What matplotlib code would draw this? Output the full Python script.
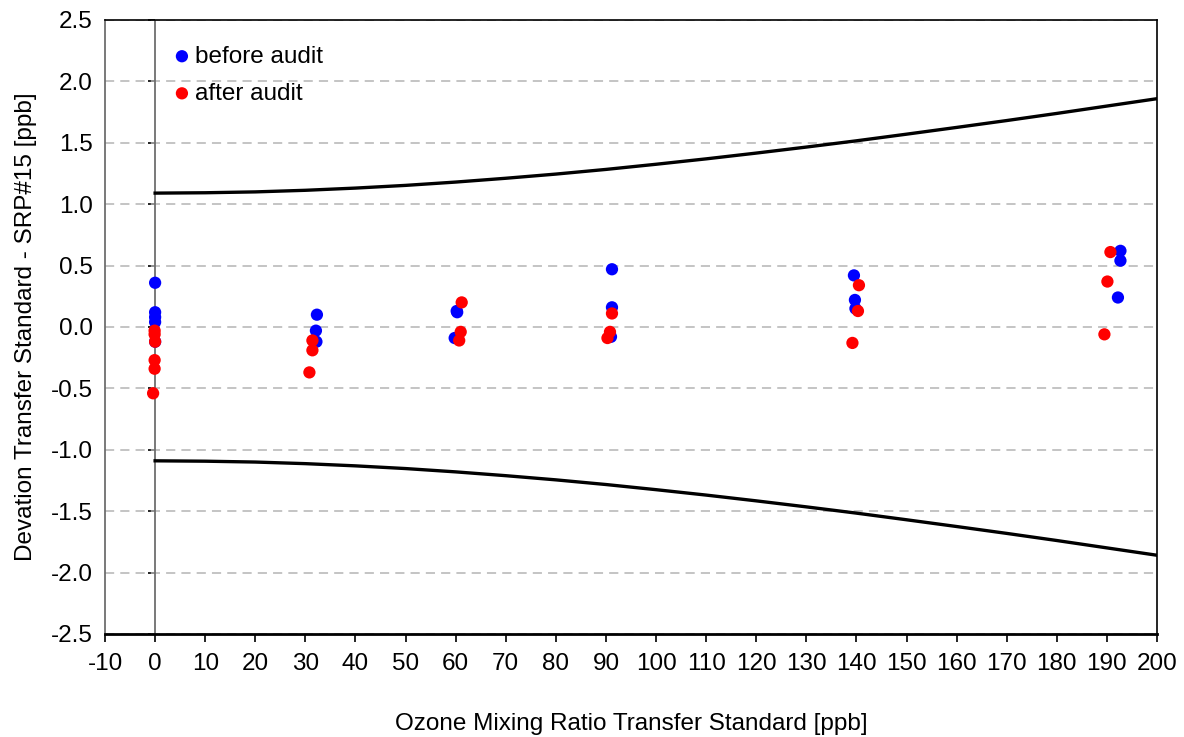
import matplotlib
matplotlib.use('Agg')
import matplotlib.pyplot as plt
import numpy as np

plt.rcParams['font.family'] = ['Liberation Sans', 'DejaVu Sans']
plt.rcParams['axes.unicode_minus'] = False

# before audit (blue)
before_x = [0, 0, 0, 0, 0, 32.3, 32.1, 32.2, 60.3, 60.2, 59.8, 91.2, 91.2, 91.0,
            139.5, 139.7, 139.8, 192.7, 192.7, 192.2]
before_y = [0.36, 0.12, 0.08, 0.04, -0.12, 0.10, -0.03, -0.12, 0.12, 0.13, -0.09,
            0.47, 0.16, -0.08, 0.42, 0.22, 0.15, 0.62, 0.54, 0.24]

# after audit (red)
after_x = [-0.1, -0.1, 0.0, -0.1, -0.1, -0.4, 31.4, 31.4, 30.8, 61.2, 61.0, 60.7,
           91.2, 90.8, 90.3, 140.5, 140.3, 139.2, 190.7, 190.1, 189.5]
after_y = [-0.03, -0.06, -0.12, -0.27, -0.34, -0.54, -0.11, -0.19, -0.37, 0.20, -0.04,
           -0.11, 0.11, -0.04, -0.09, 0.34, 0.13, -0.13, 0.61, 0.37, -0.06]

# tolerance envelope (upper branch, lower branch is its mirror)
env_x = [0, 10, 20, 30, 40, 50, 60, 70, 80, 90, 100,
         110, 120, 130, 140, 150, 160, 170, 180, 190, 200]
env_y = [1.090, 1.093, 1.100, 1.113, 1.131, 1.153, 1.180, 1.211, 1.245, 1.283, 1.325,
         1.369, 1.416, 1.465, 1.516, 1.570, 1.625, 1.681, 1.739, 1.799, 1.859]

FS = 17.5

fig = plt.figure(figsize=(11.84, 7.37), dpi=100)
ax = fig.add_axes([0.0887, 0.1398, 0.8885, 0.8331])
ax.set_xlim(-10, 200)
ax.set_ylim(-2.5, 2.5)

ax.set_yticks(np.arange(-2.5, 2.51, 0.5))
ax.set_xticks(np.arange(-10, 201, 10))
ax.yaxis.grid(True, color='#b4b4b4', linestyle=(0, (6, 4)), linewidth=1.1)
ax.set_axisbelow(True)

ax.axvline(0, color='#6e6e6e', linewidth=1.3, zorder=1)

env_y = np.array(env_y)
ax.plot(env_x, env_y, color='k', linewidth=2.4, zorder=3)
ax.plot(env_x, -env_y, color='k', linewidth=2.4, zorder=3)

ax.scatter(before_x, before_y, s=78, c='#0000ff', edgecolors='none', zorder=4, label='before audit')
ax.scatter(after_x, after_y, s=78, c='#ff0000', edgecolors='none', zorder=5, label='after audit')

# frame
for side in ['top', 'right']:
    ax.spines[side].set_color('k')
    ax.spines[side].set_linewidth(1.2)
ax.spines['bottom'].set_linewidth(2.0)
ax.spines['left'].set_color('#6e6e6e')
ax.spines['left'].set_linewidth(1.3)

ax.tick_params(axis='y', length=0, pad=9, labelsize=FS)
ax.tick_params(axis='x', length=6, width=1.2, direction='out', pad=8, labelsize=FS)
ax.set_yticklabels(['%.1f' % v for v in np.arange(-2.5, 2.51, 0.5)])

# y tick marks sit on the zero line
zero_axis = ax.secondary_yaxis(10 / 210)
zero_axis.set_yticks(np.arange(-2.5, 2.51, 0.5))
zero_axis.set_yticklabels([])
zero_axis.tick_params(length=5, width=1.2, color='k')
zero_axis.spines['left'].set_visible(False)

ax.set_xlabel('Ozone Mixing Ratio Transfer Standard [ppb]', fontsize=FS, labelpad=27)
ax.set_ylabel('Devation Transfer Standard - SRP#15 [ppb]', fontsize=FS, labelpad=10)

ax.legend(loc='upper left', bbox_to_anchor=(0.05, 0.982), frameon=False, fontsize=FS,
          handlelength=0.8, handletextpad=0.15, labelspacing=0.62, borderaxespad=0.2)

fig.savefig('out.png', dpi=100)
